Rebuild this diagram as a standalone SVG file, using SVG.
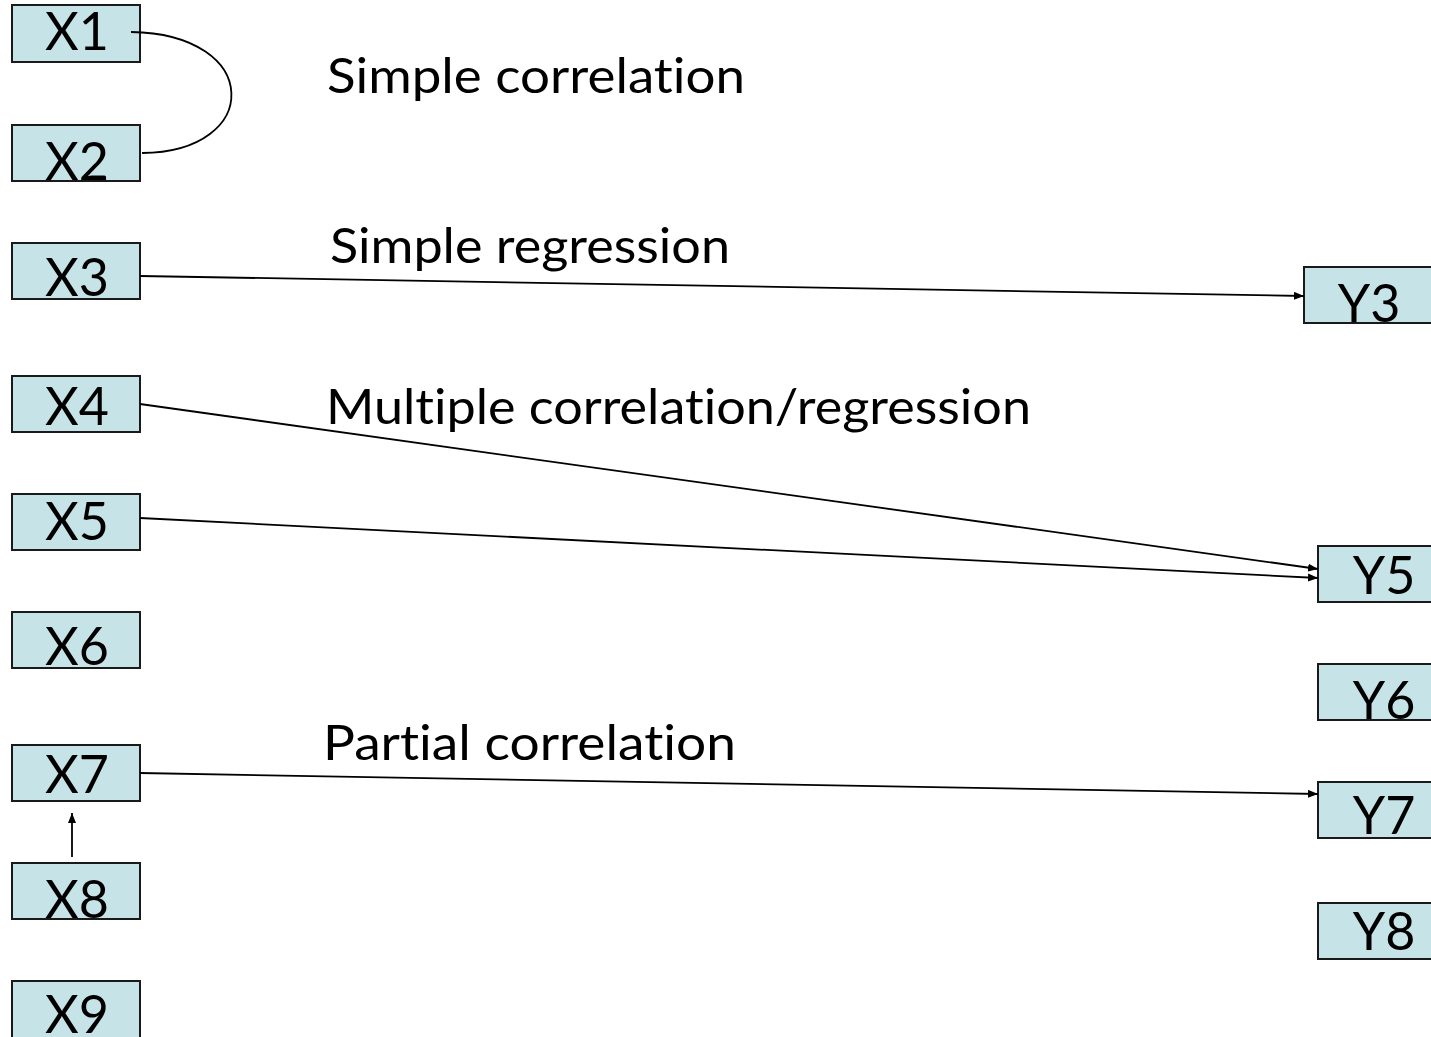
<svg xmlns="http://www.w3.org/2000/svg" width="1431" height="1037" viewBox="0 0 1431 1037">
<defs>
<marker id="ah" markerWidth="10" markerHeight="8" refX="10" refY="4" orient="auto" markerUnits="userSpaceOnUse">
<path d="M0,0 L10,4 L0,8 Z" fill="#000"/>
</marker>
<style>
.box{fill:#C6E4E7;stroke:#1a1a1a;stroke-width:2}
.lbl{font-family:"Lato","Open Sans","Liberation Sans",sans-serif;font-size:52px;fill:#000;text-anchor:middle}
.ttl{font-family:"Lato","Open Sans","Liberation Sans",sans-serif;font-size:48px;fill:#000;font-variant-ligatures:none}
.con{fill:none;stroke:#000;stroke-width:1.8}
</style>
</defs>
<rect width="1431" height="1037" fill="#fff"/>
<g id="X1"><rect class="box" x="12" y="5" width="128" height="57"/><text class="lbl" x="77" y="50">X1</text></g>
<g id="X2"><rect class="box" x="12" y="125" width="128" height="56"/><text class="lbl" x="77" y="180">X2</text></g>
<g id="X3"><rect class="box" x="12" y="243" width="128" height="56"/><text class="lbl" x="77" y="296">X3</text></g>
<g id="X4"><rect class="box" x="12" y="376" width="128" height="56"/><text class="lbl" x="77" y="425">X4</text></g>
<g id="X5"><rect class="box" x="12" y="494" width="128" height="56"/><text class="lbl" x="77" y="540">X5</text></g>
<g id="X6"><rect class="box" x="12" y="612" width="128" height="56"/><text class="lbl" x="77" y="665">X6</text></g>
<g id="X7"><rect class="box" x="12" y="745" width="128" height="56"/><text class="lbl" x="77" y="793">X7</text></g>
<g id="X8"><rect class="box" x="12" y="863" width="128" height="56"/><text class="lbl" x="77" y="918">X8</text></g>
<g id="X9"><rect class="box" x="12" y="981" width="128" height="60"/><text class="lbl" x="77" y="1033">X9</text></g>
<g id="Y3"><rect class="box" x="1304" y="267" width="130" height="56"/><text class="lbl" x="1369" y="322">Y3</text></g>
<g id="Y5"><rect class="box" x="1318" y="546" width="116" height="56"/><text class="lbl" x="1384" y="594">Y5</text></g>
<g id="Y6"><rect class="box" x="1318" y="664" width="116" height="56"/><text class="lbl" x="1384" y="719">Y6</text></g>
<g id="Y7"><rect class="box" x="1318" y="782" width="116" height="56"/><text class="lbl" x="1384" y="834">Y7</text></g>
<g id="Y8"><rect class="box" x="1318" y="903" width="116" height="56"/><text class="lbl" x="1384" y="950">Y8</text></g>
<g id="labels">
<text class="ttl" x="327" y="93" textLength="418" lengthAdjust="spacingAndGlyphs">Simple correlation</text>
<text class="ttl" x="330" y="263" textLength="400" lengthAdjust="spacingAndGlyphs">Simple regression</text>
<text class="ttl" x="326" y="424" textLength="705" lengthAdjust="spacingAndGlyphs">Multiple correlation/regression</text>
<text class="ttl" x="323" y="760" textLength="413" lengthAdjust="spacingAndGlyphs">Partial correlation</text>
</g>
<g id="connectors">
<path class="con" d="M131,32 C263,34 263,152 142,153"/>
<path class="con" d="M140,276 L1304,296" marker-end="url(#ah)"/>
<path class="con" d="M140,404 L1318,569" marker-end="url(#ah)"/>
<path class="con" d="M140,518 L1318,578" marker-end="url(#ah)"/>
<path class="con" d="M140,773 L1318,794" marker-end="url(#ah)"/>
<path class="con" d="M72,857 L72,813" marker-end="url(#ah)"/>
</g>
</svg>
